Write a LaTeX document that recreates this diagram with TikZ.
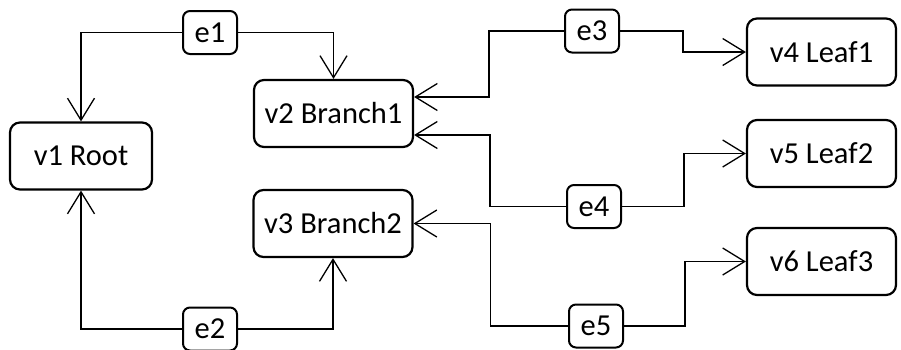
\documentclass[tikz,border=0pt]{standalone}
\usepackage{fontspec}
\setmainfont{Carlito}
\usetikzlibrary{arrows.meta,calc}

\begin{document}
\begin{tikzpicture}[x=1pt,y=-1pt,
  vert/.style={draw,line width=2.2pt,rounded corners=10pt,minimum height=67pt,
    inner sep=0pt,font=\fontsize{30.5}{36}\selectfont},
  elab/.style={draw,line width=2pt,rounded corners=7pt,minimum width=54pt,
    minimum height=43pt,inner sep=0pt,fill=white,font=\fontsize{30.5}{36}\selectfont},
  link/.style={line width=1.3pt,-{Straight Barb[length=22pt,width=27pt]}}]
\useasboundingbox (0,0) rectangle (901,349);
% vertices: root, two branches, three leaves
\node[vert,minimum width=142pt] (v1) at (81,156) {v1 Root};
\node[vert,minimum width=159pt] (v2) at (333.5,113.5) {v2 Branch1};
\node[vert,minimum width=159pt] (v3) at (333,223.5) {v3 Branch2};
\node[vert,minimum width=149pt] (v4) at (821.5,52) {v4 Leaf1};
\node[vert,minimum width=149pt] (v5) at (821.5,153.5) {v5 Leaf2};
\node[vert,minimum width=149pt] (v6) at (821.5,261.5) {v6 Leaf3};
% edge labels
\node[elab] (e1) at (210,32.5) {e1};
\node[elab] (e2) at (210,329) {e2};
\node[elab] (e3) at (592,31) {e3};
\node[elab] (e4) at (594,206.5) {e4};
\node[elab] (e5) at (596,326) {e5};
% root edges
\draw[link] (e1.west) -| (v1.north);
\draw[link] (e1.east) -| (v2.north);
\draw[link] (e2.west) -| (v1.south);
\draw[link] (e2.east) -| (v3.south);
% branch edges, two ports on v2
\coordinate (v2a) at ([yshift=16.5pt]v2.east);
\coordinate (v2b) at ([yshift=-21.5pt]v2.east);
\foreach \lab/\tgt in {e3/v2a,e4/v2b,e5/v3.east}
  \draw[link] (\lab.west) -| ($(\lab.west)!.5!(\tgt)$) |- (\tgt);
\foreach \lab/\tgt in {e3/v4,e4/v5,e5/v6}
  \draw[link] (\lab.east) -| ($(\lab.east)!.5!(\tgt.west)$) |- (\tgt.west);
\end{tikzpicture}
\end{document}
